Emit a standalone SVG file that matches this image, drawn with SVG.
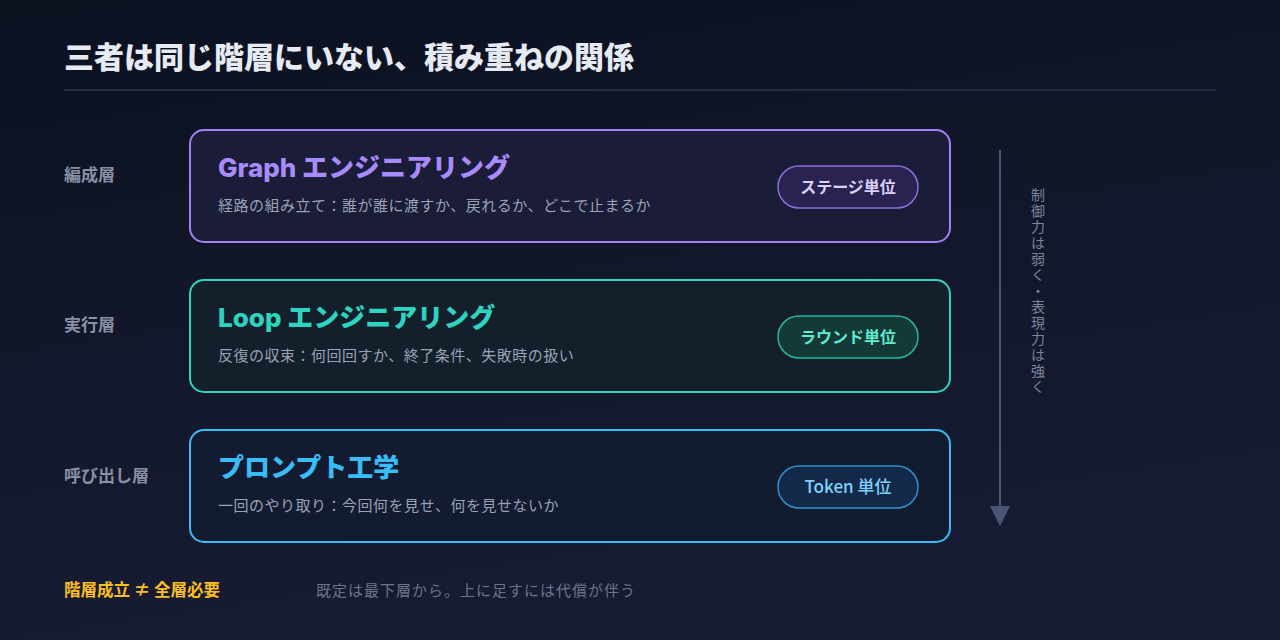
<svg xmlns="http://www.w3.org/2000/svg" width="1280" height="640" viewBox="0 0 1280 640">
  <defs>
    <linearGradient id="bg" x1="0" y1="0" x2="0.3" y2="1">
      <stop offset="0" stop-color="#0c1120"/>
      <stop offset="1" stop-color="#171c34"/>
    </linearGradient>
    <marker id="arrow" markerWidth="20" markerHeight="20" refX="0" refY="0" orient="auto" markerUnits="userSpaceOnUse" viewBox="0 -10 20 20">
      <path d="M0,-10 L20,0 L0,10 Z" fill="#4b5675"/>
    </marker>
    <style>
      .title { font-family: "Noto Sans CJK JP", sans-serif; font-weight: 900; font-size: 30px; fill: #e5eaf3; }
      .layer { font-family: "Noto Sans CJK JP", sans-serif; font-weight: 700; font-size: 17px; fill: #8790a4; }
      .box { stroke-width: 2; }
      .head { font-family: "Inter", "Noto Sans CJK JP", sans-serif; font-weight: 800; font-size: 26px; }
      .desc { font-family: "Noto Sans CJK JP", sans-serif; font-size: 15px; letter-spacing: 0.5px; fill: #9aa2b4; }
      .pill { stroke-width: 1.5; }
      .pilltext { font-family: "Noto Sans CJK JP", sans-serif; font-weight: 700; font-size: 16px; text-anchor: middle; }
      .side { font-family: "Noto Sans CJK JP", sans-serif; font-size: 14px; fill: #7c859b; letter-spacing: 2px; }
    </style>
  </defs>

  <rect width="1280" height="640" fill="url(#bg)"/>

  <g id="header">
    <text class="title" x="64" y="68">三者は同じ階層にいない、積み重ねの関係</text>
    <line x1="64" y1="90" x2="1216" y2="90" stroke="#262c44" stroke-width="2"/>
  </g>

  <g id="layer-labels">
    <text class="layer" x="64" y="181">編成層</text>
    <text class="layer" x="64" y="331">実行層</text>
    <text class="layer" x="64" y="482">呼び出し層</text>
  </g>

  <g id="graph-layer">
    <rect class="box" x="190" y="130" width="760" height="112" rx="14" fill="#1a1c38" stroke="#a282f3"/>
    <text class="head" x="218" y="177" fill="#a78bfa">Graph エンジニアリング</text>
    <text class="desc" x="218" y="211">経路の組み立て：誰が誰に渡すか、戻れるか、どこで止まるか</text>
    <rect class="pill" x="778" y="166" width="140" height="42" rx="21" fill="#2a2350" stroke="#8b6fd6"/>
    <text class="pilltext" x="848" y="193" fill="#d9d1fb">ステージ単位</text>
  </g>

  <g id="loop-layer">
    <rect class="box" x="190" y="280" width="760" height="112" rx="14" fill="#141f2c" stroke="#2dd4bf"/>
    <text class="head" x="218" y="327" fill="#2dd4bf">Loop エンジニアリング</text>
    <text class="desc" x="218" y="361">反復の収束：何回回すか、終了条件、失敗時の扱い</text>
    <rect class="pill" x="778" y="316" width="140" height="42" rx="21" fill="#133a35" stroke="#2ab49f"/>
    <text class="pilltext" x="848" y="343" fill="#5eead4">ラウンド単位</text>
  </g>

  <g id="prompt-layer">
    <rect class="box" x="190" y="430" width="760" height="112" rx="14" fill="#131b31" stroke="#38bdf8"/>
    <text class="head" x="218" y="477" fill="#38bdf8">プロンプト工学</text>
    <text class="desc" x="218" y="511">一回のやり取り：今回何を見せ、何を見せないか</text>
    <rect class="pill" x="778" y="466" width="140" height="42" rx="21" fill="#13294a" stroke="#2c91cb"/>
    <text class="pilltext" x="848" y="493" fill="#7dd3fc" style="font-weight:500;font-size:17px">Token 単位</text>
  </g>

  <g id="connectors">
    <line x1="1000" y1="150" x2="1000" y2="506" stroke="#4b5675" stroke-width="2" marker-end="url(#arrow)"/>
  </g>

  <g id="axis-label">
    <text class="side" x="1038" y="292" writing-mode="vertical-rl" text-anchor="middle">制御力は弱く・表現力は強く</text>
  </g>

  <g id="footer">
    <text x="64" y="596" font-family="Noto Sans CJK JP, sans-serif" font-weight="700" font-size="16.5" fill="#fbbf24">階層成立 ≠ 全層必要</text>
    <text x="316" y="596" font-family="Noto Sans CJK JP, sans-serif" font-size="15" letter-spacing="1" fill="#6b7489">既定は最下層から。上に足すには代償が伴う</text>
  </g>
</svg>
